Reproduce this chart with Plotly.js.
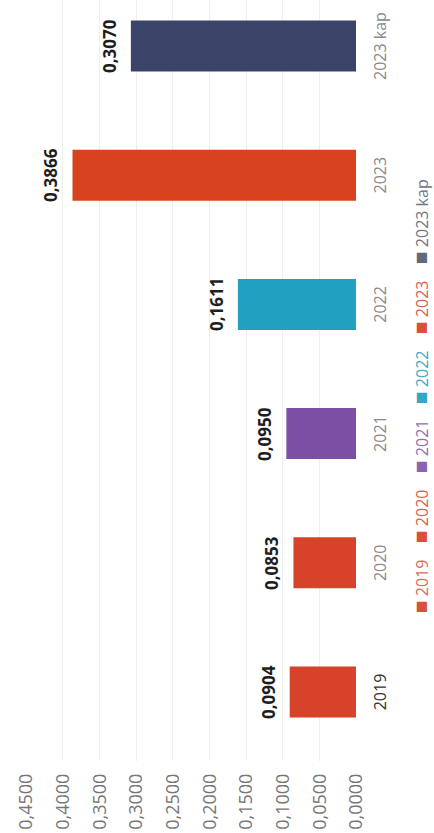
<!DOCTYPE html>
<html>
<head>
<meta charset="utf-8">
<script src="https://cdn.plot.ly/plotly-3.0.1.min.js"></script>
<style>
  html, body { margin: 0; padding: 0; background: #ffffff; }
  body { width: 434px; height: 833px; overflow: hidden; position: relative; }
  #chart {
    position: absolute; left: 0; top: 833px;
    width: 833px; height: 434px;
    transform-origin: 0 0; transform: rotate(-90deg);
  }
</style>
</head>
<body>
<div id="chart"></div>
<script>
// ---- data ----
const categories = ['2019', '2020', '2021', '2022', '2023', '2023 kap'];
const values = [0.0904, 0.0853, 0.0950, 0.1611, 0.3866, 0.3070];
const barColors = ['#d7432a', '#d7432a', '#7c4fa5', '#22a0c2', '#d8421f', '#3b4468'];
const legendMarkerColors = ['#d9503c', '#d9503c', '#8a64b0', '#35a7c6', '#d9503c', '#5e6a7e'];
const legendTextColors = ['#df6a5c', '#d9604f', '#8f70b3', '#43a9c8', '#dc5e4e', '#6f7682'];
const categoryTickLabels = ['<span style="color:#333333">2019</span>', '2020', '2021', '2022', '2023', '2023 kap'];
const valueTicks = [0, 0.05, 0.10, 0.15, 0.20, 0.25, 0.30, 0.35, 0.40, 0.45];

function fmt(v) { return v.toFixed(4).replace('.', ','); }

const trace = {
  type: 'bar',
  x: categories,
  y: values,
  width: 0.395,
  marker: { color: barColors, line: { width: 0 } },
  showlegend: false,
  hoverinfo: 'none'
};

const annotations = [];
// value labels (x given as category index so numeric-looking names are not misread)
categories.forEach((c, i) => {
  annotations.push({
    x: i, y: values[i], xref: 'x', yref: 'y',
    text: '<b>' + fmt(values[i]) + '</b>',
    showarrow: false, yanchor: 'bottom', xanchor: 'center', yshift: 8,
    font: { family: 'Open Sans, sans-serif', size: 17, color: '#1e1e1e' }
  });
});
// legend (drawn as annotations to match compact spacing)
const legendStart = 0.1925, legendStep = 0.0915;
categories.forEach((c, i) => {
  annotations.push({
    x: legendStart + i * legendStep, y: -0.194, xref: 'paper', yref: 'paper',
    xanchor: 'left', yanchor: 'middle', showarrow: false,
    text: '<span style="color:' + legendMarkerColors[i] + ';font-size:21px">■</span> <span style="color:' + legendTextColors[i] + '">' + c + '</span>',
    font: { family: 'Open Sans, sans-serif', size: 16, color: legendTextColors[i] }
  });
});

const layout = {
  width: 833, height: 434,
  margin: { l: 72, r: 0, t: 26, b: 78 },
  paper_bgcolor: '#ffffff', plot_bgcolor: '#ffffff',
  separators: ',.',
  showlegend: false,
  font: { family: 'Open Sans, sans-serif', color: '#7a7a7a' },
  xaxis: {
    type: 'category',
    range: [-0.534, 5.356],
    tickmode: 'array', tickvals: categories, ticktext: categoryTickLabels,
    ticks: 'outside', ticklen: 10, tickcolor: 'rgba(0,0,0,0)',
    showgrid: false, zeroline: false, showline: false,
    tickfont: { family: 'Open Sans, sans-serif', size: 16, color: '#8a8a8a' }
  },
  yaxis: {
    range: [0, 0.45],
    tickmode: 'array', tickvals: valueTicks,
    tickformat: '.4f',
    ticks: 'outside', ticklen: 8, tickcolor: 'rgba(0,0,0,0)',
    showgrid: true, gridcolor: '#efefef', gridwidth: 1,
    zeroline: false, showline: false,
    tickfont: { family: 'Open Sans, sans-serif', size: 18, color: '#767676' }
  },
  annotations: annotations
};

Plotly.newPlot('chart', [trace], layout, { staticPlot: true, displayModeBar: false, responsive: false });
</script>
</body>
</html>
